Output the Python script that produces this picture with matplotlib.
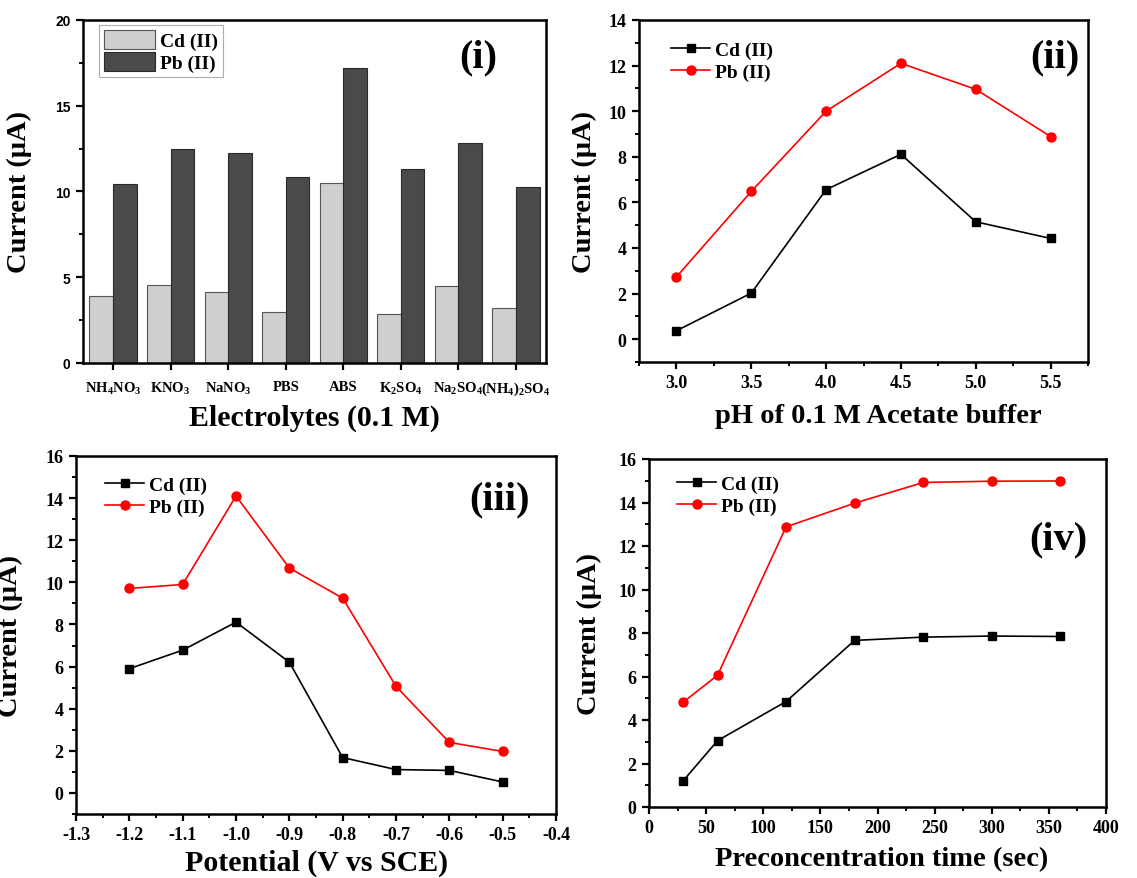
import matplotlib
matplotlib.use("Agg")
import matplotlib.pyplot as plt
from matplotlib.ticker import MultipleLocator, FixedLocator
import numpy as np

plt.rcParams['font.family'] = ['Liberation Serif', 'DejaVu Serif']
plt.rcParams['font.weight'] = 'bold'
plt.rcParams['mathtext.fontset'] = 'custom'
plt.rcParams['mathtext.rm'] = 'Liberation Serif:bold'
plt.rcParams['mathtext.bf'] = 'Liberation Serif:bold'
plt.rcParams['mathtext.it'] = 'Liberation Serif:bold'
plt.rcParams['mathtext.default'] = 'bf'

# ---------------- data ----------------
electrolytes = [r"NH$_4$NO$_3$", r"KNO$_3$", r"NaNO$_3$", "PBS", "ABS",
                r"K$_2$SO$_4$", r"Na$_2$SO$_4$", r"(NH$_4$)$_2$SO$_4$"]
cd_electrolyte = [3.92, 4.56, 4.12, 2.98, 10.49, 2.85, 4.50, 3.18]
pb_electrolyte = [10.43, 12.47, 12.27, 10.87, 17.22, 11.30, 12.80, 10.27]

ph = [3.0, 3.5, 4.0, 4.5, 5.0, 5.5]
cd_ph = [0.37, 2.02, 6.56, 8.11, 5.15, 4.42]
pb_ph = [2.73, 6.48, 10.00, 12.10, 10.96, 8.89]

potential = [-1.2, -1.1, -1.0, -0.9, -0.8, -0.7, -0.6, -0.5]
cd_pot = [5.90, 6.78, 8.11, 6.21, 1.68, 1.11, 1.07, 0.52]
pb_pot = [9.71, 9.90, 14.10, 10.68, 9.25, 5.06, 2.40, 1.97]

ptime = [30, 60, 120, 180, 240, 300, 360]
cd_time = [1.21, 3.05, 4.85, 7.66, 7.81, 7.86, 7.84]
pb_time = [4.82, 6.06, 12.88, 13.97, 14.92, 14.98, 14.99]

series_labels = ["Cd (II)", "Pb (II)"]

# ---------------- figure ----------------
fig = plt.figure(figsize=(11.37, 8.79), dpi=100)

def frac(l, r, t, b):
    W, H = 1137.0, 879.0
    return [l / W, 1 - b / H, (r - l) / W, (b - t) / H]

ax1 = fig.add_axes(frac(83, 546, 21, 364))
ax2 = fig.add_axes(frac(639, 1088, 21, 363))
ax3 = fig.add_axes(frac(76, 556, 457, 815))
ax4 = fig.add_axes(frac(649, 1106, 460, 808))

SPINE_LW = 1.8
TICK_FS = 13
LABEL_FS = 20.5
PANEL_FS = 29

def style_axes(ax):
    for s in ax.spines.values():
        s.set_linewidth(SPINE_LW)
    ax.tick_params(which='major', direction='out', length=5, width=1.6,
                   labelsize=TICK_FS, top=False, right=False, pad=4)
    ax.tick_params(which='minor', direction='out', length=3, width=1.4,
                   top=False, right=False)
    for lab in ax.get_xticklabels() + ax.get_yticklabels():
        lab.set_fontweight('bold')

# ---- panel (i) ----
x = np.arange(len(electrolytes))
w = 0.41
ax1.bar(x - w / 2, cd_electrolyte, w, color='#cfcfcf', edgecolor='#555555',
        linewidth=0.8, label=series_labels[0])
ax1.bar(x + w / 2, pb_electrolyte, w, color='#4a4a4a', edgecolor='#2a2a2a',
        linewidth=0.8, label=series_labels[1])
ax1.set_xlim(-0.52, 7.52)
ax1.set_ylim(0, 20)
ax1.set_xticks(x)
ax1.set_xticklabels(electrolytes)
ax1.yaxis.set_major_locator(MultipleLocator(5))
ax1.yaxis.set_minor_locator(MultipleLocator(2.5))
style_axes(ax1)
ax1.tick_params(axis='x', labelsize=10.5, pad=7)
for lab in ax1.get_yticklabels():
    lab.set_family(['Liberation Sans', 'DejaVu Sans'])
    lab.set_fontsize(10)
    lab.set_fontweight('bold')
leg1 = ax1.legend(loc='upper left', bbox_to_anchor=(0.035, 0.985), fontsize=14,
                  frameon=True, fancybox=False, edgecolor='#999999',
                  handlelength=2.6, handleheight=1.1, borderpad=0.25,
                  labelspacing=0.1, handletextpad=0.3, borderaxespad=0)
leg1.get_frame().set_linewidth(0.8)
for t in leg1.get_texts():
    t.set_fontweight('bold')
ax1.set_ylabel("Current (μA)", fontsize=LABEL_FS, fontweight='bold')
ax1.yaxis.set_label_coords(-0.11, 0.5)
ax1.set_xlabel("Electrolytes (0.1 M)", fontsize=21.5, fontweight='bold', va='center')
ax1.xaxis.set_label_coords(0.50, -0.157)
ax1.text(0.853, 0.891, "(i)", transform=ax1.transAxes, fontsize=PANEL_FS,
         fontweight='bold', ha='center', va='center')

# ---- line panels ----
def line_panel(ax, xs, cd, pb):
    ax.plot(xs, cd, color='black', marker='s', markersize=5.5, linewidth=1.2,
            label=series_labels[0])
    ax.plot(xs, pb, color='#ff0000', marker='o', markersize=6.5, linewidth=1.2,
            label=series_labels[1])
    style_axes(ax)
    leg = ax.legend(loc='upper left', fontsize=14, frameon=False,
                    handlelength=2.0, handletextpad=0.25, labelspacing=0.2,
                    borderaxespad=0)
    for t in leg.get_texts():
        t.set_fontweight('bold')
    return leg

# ---- panel (ii) ----
leg2 = line_panel(ax2, ph, cd_ph, pb_ph)
leg2.set_bbox_to_anchor((0.055, 0.96), transform=ax2.transAxes)
ax2.set_xlim(2.75, 5.75)
ax2.set_ylim(-1, 14)
ax2.xaxis.set_major_locator(FixedLocator(ph))
ax2.xaxis.set_minor_locator(MultipleLocator(0.25))
ax2.yaxis.set_major_locator(MultipleLocator(2))
ax2.yaxis.set_minor_locator(MultipleLocator(1))
ax2.set_xticks(ph)
ax2.set_xticklabels([f"{v:.1f}" for v in ph])
style_axes(ax2)
ax2.set_ylabel("Current (μA)", fontsize=LABEL_FS, fontweight='bold')
ax2.yaxis.set_label_coords(-0.093, 0.5)
ax2.set_xlabel("pH of 0.1 M Acetate buffer", fontsize=LABEL_FS, fontweight='bold', va='center')
ax2.xaxis.set_label_coords(0.533, -0.156)
ax2.text(0.927, 0.891, "(ii)", transform=ax2.transAxes, fontsize=PANEL_FS,
         fontweight='bold', ha='center', va='center')

# ---- panel (iii) ----
leg3 = line_panel(ax3, potential, cd_pot, pb_pot)
leg3.set_bbox_to_anchor((0.045, 0.965), transform=ax3.transAxes)
ax3.set_xlim(-1.3, -0.4)
ax3.set_ylim(-1, 16)
ax3.xaxis.set_major_locator(MultipleLocator(0.1))
ax3.xaxis.set_minor_locator(MultipleLocator(0.05))
ax3.yaxis.set_major_locator(MultipleLocator(2))
ax3.yaxis.set_minor_locator(MultipleLocator(1))
ax3.xaxis.set_major_formatter(matplotlib.ticker.FuncFormatter(lambda v, p: f"{v:.1f}"))
style_axes(ax3)
ax3.set_ylabel("Current (μA)", fontsize=LABEL_FS, fontweight='bold')
ax3.yaxis.set_label_coords(-0.11, 0.5)
ax3.set_xlabel("Potential (V vs SCE)", fontsize=21.5, fontweight='bold', va='center')
ax3.xaxis.set_label_coords(0.502, -0.134)
ax3.text(0.883, 0.881, "(iii)", transform=ax3.transAxes, fontsize=PANEL_FS,
         fontweight='bold', ha='center', va='center')

# ---- panel (iv) ----
leg4 = line_panel(ax4, ptime, cd_time, pb_time)
leg4.set_bbox_to_anchor((0.045, 0.975), transform=ax4.transAxes)
ax4.set_xlim(0, 400)
ax4.set_ylim(0, 16)
ax4.xaxis.set_major_locator(MultipleLocator(50))
ax4.xaxis.set_minor_locator(MultipleLocator(25))
ax4.yaxis.set_major_locator(MultipleLocator(2))
ax4.yaxis.set_minor_locator(MultipleLocator(1))
style_axes(ax4)
ax4.set_ylabel("Current (μA)", fontsize=LABEL_FS, fontweight='bold')
ax4.yaxis.set_label_coords(-0.103, 0.5)
ax4.set_xlabel("Preconcentration time (sec)", fontsize=LABEL_FS, fontweight='bold', va='center')
ax4.xaxis.set_label_coords(0.508, -0.147)
ax4.text(0.895, 0.77, "(iv)", transform=ax4.transAxes, fontsize=PANEL_FS,
         fontweight='bold', ha='center', va='center')

for ax in (ax2, ax3, ax4):
    for lab in ax.get_xticklabels() + ax.get_yticklabels():
        lab.set_fontweight('bold')

fig.savefig("out.png", dpi=100)
